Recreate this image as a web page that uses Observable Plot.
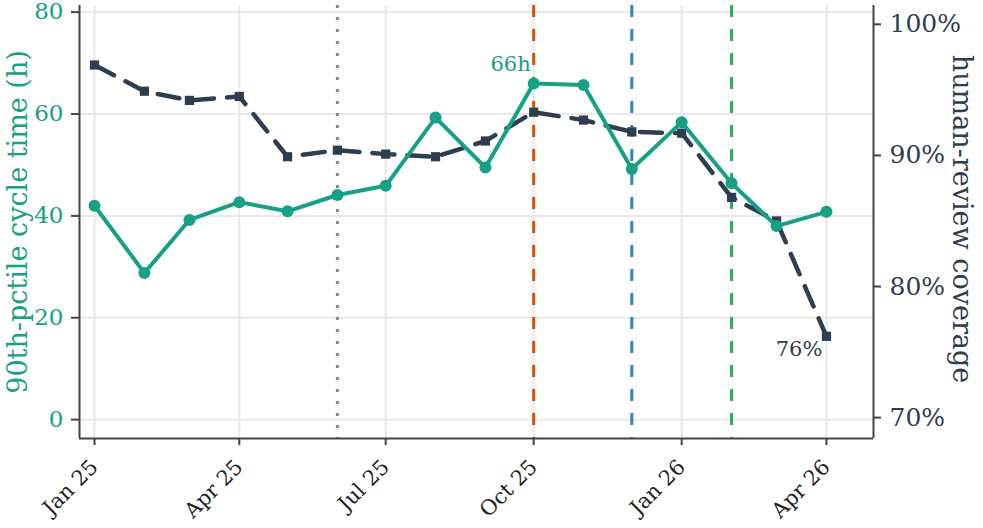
<!DOCTYPE html>
<html><head><meta charset="utf-8">
<script src="https://cdn.jsdelivr.net/npm/d3@7"></script>
<script src="https://cdn.jsdelivr.net/npm/@observablehq/plot@0.6"></script>
<style>
html,body{margin:0;padding:0;background:#fff}
</style>
</head><body><div id="chart"></div>
<script>
// ---- data ----
const months = ["2025-01-01","2025-02-01","2025-03-01","2025-04-01","2025-05-01","2025-06-01","2025-07-01","2025-08-01","2025-09-01","2025-10-01","2025-11-01","2025-12-01","2026-01-01","2026-02-01","2026-03-01","2026-04-01"];
const cycleTime = [42.0, 28.8, 39.2, 42.7, 40.9, 44.1, 45.9, 59.3, 49.5, 66.0, 65.7, 49.2, 58.4, 46.4, 38.0, 40.8];
const coverage = [96.9, 94.9, 94.2, 94.5, 89.9, 90.4, 90.1, 89.9, 91.1, 93.3, 92.7, 91.8, 91.7, 86.8, 85.0, 76.2];
const leftTicks = [0, 20, 40, 60, 80];
const rightTicks = [70, 80, 90, 100];
const xTicks = ["2025-01-01","2025-04-01","2025-07-01","2025-10-01","2026-01-01","2026-04-01"];
const eventDates = ["2025-06-01","2025-10-01","2025-12-01","2026-02-01"];
const leftLabel = "90th-pctile cycle time (h)";
const rightLabel = "human-review coverage";

// ---- styles ----
const TEAL = "#16a085", NAVY = "#2c3e50", AXIS = "#444444", GRID = "#e8e8e8";
const eventStyles = [
  {stroke: "#7f8c8d", dash: "3,9"},
  {stroke: "#d35400", dash: "12,12"},
  {stroke: "#2e86c1", dash: "12,12"},
  {stroke: "#27ae60", dash: "12,12"}
];
const FONT = "DejaVu Serif";

const parse = d3.utcParse("%Y-%m-%d");
const data = months.map((m, i) => ({date: parse(m), ct: cycleTime[i], cov: coverage[i]}));
// right axis (coverage %) mapped onto the left scale
const covToLeft = d3.scaleLinear().domain([70, 100]).range([0.4, 77.6]);
const xDomain = [new Date(Date.UTC(2024, 11, 22, 16)), new Date(Date.UTC(2026, 3, 30, 6))];
const yDomain = [-3.7, 81.3];

const peak = data.reduce((a, b) => (b.ct > a.ct ? b : a));
const last = data[data.length - 1];

const marks = [
  Plot.gridY(leftTicks, {stroke: GRID, strokeOpacity: 1, strokeWidth: 2}),
  Plot.gridX(xTicks.map(parse), {stroke: GRID, strokeOpacity: 1, strokeWidth: 2}),
  ...eventDates.map((d, i) => Plot.ruleX([parse(d)], {stroke: eventStyles[i].stroke, strokeWidth: 3, strokeDasharray: eventStyles[i].dash})),
  Plot.line(data, {x: "date", y: d => covToLeft(d.cov), stroke: NAVY, strokeWidth: 4.5, strokeDasharray: "22,13"}),
  Plot.dot(data, {x: "date", y: d => covToLeft(d.cov), symbol: "square", r: 5.2, fill: NAVY}),
  Plot.line(data, {x: "date", y: "ct", stroke: TEAL, strokeWidth: 4}),
  Plot.dot(data, {x: "date", y: "ct", r: 6, fill: TEAL}),
  Plot.text([peak], {x: "date", y: "ct", text: d => `${Math.round(d.ct)}h`, fill: TEAL, fontSize: 21, textAnchor: "end", lineAnchor: "bottom", dx: -3, dy: -12}),
  Plot.text([last], {x: "date", y: d => covToLeft(d.cov), text: d => `${Math.round(d.cov)}%`, fill: NAVY, fontSize: 21, textAnchor: "end", lineAnchor: "top", dx: -4, dy: 5}),
  // axis lines
  Plot.ruleX([xDomain[0]], {stroke: AXIS, strokeWidth: 2}),
  Plot.ruleX([xDomain[1]], {stroke: AXIS, strokeWidth: 2}),
  Plot.ruleY([yDomain[0]], {stroke: AXIS, strokeWidth: 2}),
  // y tick labels
  Plot.text(leftTicks, {y: d => d, frameAnchor: "left", text: d => String(d), textAnchor: "end", lineAnchor: "middle", dx: -16, fill: TEAL, fontSize: 23}),
  Plot.text(rightTicks, {y: d => covToLeft(d), frameAnchor: "right", text: d => `${d}%`, textAnchor: "start", lineAnchor: "middle", dx: 16, fill: NAVY, fontSize: 25}),
  // tick marks
  Plot.axisY(rightTicks.map(covToLeft), {anchor: "right", tickSize: 7, stroke: AXIS, strokeWidth: 2, text: null, label: null}),
  Plot.axisY(leftTicks, {anchor: "left", tickSize: 8, stroke: AXIS, strokeWidth: 2, text: null, label: null}),
  Plot.axisX(xTicks.map(parse), {anchor: "bottom", tickSize: 7, tickPadding: 18, stroke: AXIS, strokeWidth: 2, fill: "#222", fontSize: 21, tickRotate: -45, tickFormat: d3.utcFormat("%b %y"), label: null}),
  // axis titles
  Plot.text([leftLabel], {frameAnchor: "left", text: d => d, rotate: -90, fill: TEAL, fontSize: 27, dx: -61, textAnchor: "middle", lineAnchor: "middle"}),
  Plot.text([rightLabel], {frameAnchor: "right", text: d => d, rotate: 90, fill: NAVY, fontSize: 27, dx: 88, dy: -3, textAnchor: "middle", lineAnchor: "middle"})
];

const chart = Plot.plot({
  width: 983, height: 528,
  marginLeft: 79, marginRight: 110, marginTop: 5, marginBottom: 90,
  style: {fontFamily: FONT, fontSize: "23px", background: "#fff", overflow: "visible"},
  x: {type: "utc", domain: xDomain, axis: null},
  y: {domain: yDomain, axis: null},
  marks
});
document.getElementById("chart").append(chart);
</script>
</body></html>
